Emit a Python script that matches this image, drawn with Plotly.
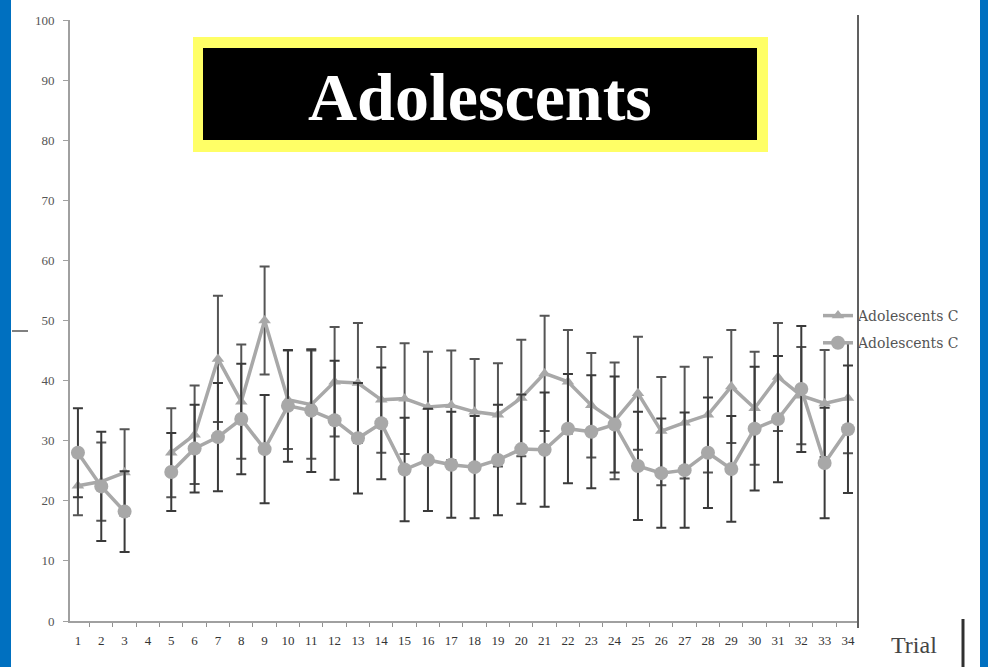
import plotly.graph_objects as go

# data
trials = list(range(1, 35))
tick_labels = [str(t) for t in trials]

tri_mean = [22.5, 23.2, 24.7, None, 28.0, 31.0, 43.6, 36.5, 50.0, 36.8,
            36.0, 39.8, 39.6, 36.8, 37.0, 35.6, 35.9, 34.8, 34.3, 37.1,
            41.2, 39.8, 35.9, 33.3, 37.9, 31.6, 33.0, 34.3, 39.0, 35.4,
            40.6, 37.5, 36.2, 37.1]
tri_err = [4.9, 6.5, 7.2, None, 7.4, 8.2, 10.5, 9.5, 9.0, 8.2,
           9.0, 9.1, 10.0, 8.8, 9.2, 9.2, 9.1, 8.8, 8.6, 9.7,
           9.6, 8.6, 8.7, 9.7, 9.4, 9.0, 9.3, 9.6, 9.4, 9.4,
           9.0, 8.1, 8.9, 9.2]

circ_mean = [28.0, 22.4, 18.2, None, 24.8, 28.7, 30.6, 33.6, 28.6, 35.8,
             35.0, 33.4, 30.4, 32.9, 25.2, 26.8, 26.0, 25.6, 26.8, 28.6,
             28.5, 32.0, 31.5, 32.7, 25.8, 24.6, 25.1, 28.0, 25.3, 32.0,
             33.6, 38.6, 26.3, 31.9]
circ_err = [7.4, 9.1, 6.7, None, 6.5, 7.3, 9.0, 9.2, 9.0, 9.3,
            10.2, 9.9, 9.2, 9.3, 8.6, 8.5, 8.8, 8.5, 9.2, 9.1,
            9.5, 9.1, 9.4, 8.0, 9.0, 9.1, 9.6, 9.2, 8.8, 10.3,
            10.5, 10.5, 9.2, 10.6]

series_names = ["Adolescents C", "Adolescents C"]

W, H = 988, 667
L, R, T, B = 70, 130, 20, 46
PW, PH = W - L - R, H - T - B


def px_x(px):
    return (px - L) / PW


def px_y(py):
    return (H - B - py) / PH


GREY = "#a8a8a8"
SERIF = "Liberation Serif"

fig = go.Figure()

fig.add_trace(go.Scatter(
    x=trials, y=tri_mean, name=series_names[0], mode="lines+markers",
    line=dict(color=GREY, width=3.5),
    marker=dict(symbol="triangle-up", size=11, color=GREY),
    error_y=dict(type="data", array=tri_err, color="#555555", thickness=2, width=5),
    legendgroup="a",
))
fig.add_trace(go.Scatter(
    x=trials, y=circ_mean, name=series_names[1], mode="lines+markers",
    line=dict(color=GREY, width=3.5),
    marker=dict(symbol="circle", size=14, color=GREY),
    error_y=dict(type="data", array=circ_err, color="#3a3a3a", thickness=2, width=5),
    legendgroup="b",
))

shapes = [
    # blue slide border strips
    dict(type="rect", xref="paper", yref="paper", x0=px_x(0), x1=px_x(11),
         y0=px_y(H), y1=px_y(0), fillcolor="#0070c0", line_width=0, layer="above"),
    dict(type="rect", xref="paper", yref="paper", x0=px_x(980), x1=px_x(W),
         y0=px_y(H), y1=px_y(0), fillcolor="#0070c0", line_width=0, layer="above"),
    # title box
    dict(type="rect", xref="paper", yref="paper", x0=px_x(193), x1=px_x(768),
         y0=px_y(152), y1=px_y(37), fillcolor="#ffff66", line_width=0, layer="above"),
    dict(type="rect", xref="paper", yref="paper", x0=px_x(203), x1=px_x(757),
         y0=px_y(140), y1=px_y(48), fillcolor="black", line_width=0, layer="above"),
    # right edge of the plot area
    dict(type="line", xref="paper", yref="paper", x0=1, x1=1,
         y0=px_y(628), y1=px_y(15), line=dict(color="#606060", width=2)),
    # small dash at left and bar next to "Trial"
    dict(type="line", xref="paper", yref="paper", x0=px_x(12), x1=px_x(28),
         y0=px_y(331), y1=px_y(331), line=dict(color="#808080", width=2)),
    dict(type="line", xref="paper", yref="paper", x0=px_x(963), x1=px_x(963),
         y0=px_y(H), y1=px_y(619), line=dict(color="#303030", width=3)),
]

annotations = [
    dict(text="<b>Adolescents</b>", xref="paper", yref="paper",
         x=px_x(480), y=px_y(97), xanchor="center", yanchor="middle", showarrow=False,
         font=dict(family=SERIF, size=68, color="white")),
    dict(text="Trial", xref="paper", yref="paper",
         x=px_x(914), y=px_y(645), xanchor="center", yanchor="middle", showarrow=False,
         font=dict(family=SERIF, size=24, color="#444444")),
]

fig.update_layout(
    width=W, height=H,
    margin=dict(l=L, r=R, t=T, b=B),
    paper_bgcolor="white", plot_bgcolor="white",
    shapes=shapes, annotations=annotations,
    showlegend=True,
    legend=dict(x=px_x(818), y=px_y(300), xanchor="left", yanchor="top",
                bgcolor="rgba(0,0,0,0)", font=dict(family="DejaVu Serif", size=14, color="#555555"),
                tracegroupgap=6, traceorder="grouped", itemwidth=30),
)

fig.update_xaxes(
    range=[0.66, 34.43], tickvals=trials, ticktext=tick_labels,
    showgrid=False, zeroline=False, showline=True, linecolor="#a0a0a0", linewidth=2,
    ticks="", ticklabelstandoff=6,
    tickfont=dict(family=SERIF, size=13, color="#333333"),
    minor=dict(ticks="outside", tick0=0.5, dtick=1, ticklen=4, tickcolor="#909090", showgrid=False),
)
fig.update_yaxes(
    range=[0, 100], dtick=10,
    showgrid=False, zeroline=False, showline=True, linecolor="#a0a0a0", linewidth=2,
    ticks="outside", ticklen=5, tickcolor="#a0a0a0", ticklabelstandoff=6,
    tickfont=dict(family=SERIF, size=13, color="#555555"),
)

# drop the browser's default body margin so the figure sits at the page origin
fig.write_html("out.html", config={"displayModeBar": False},
               post_script="document.body.style.margin='0';")
